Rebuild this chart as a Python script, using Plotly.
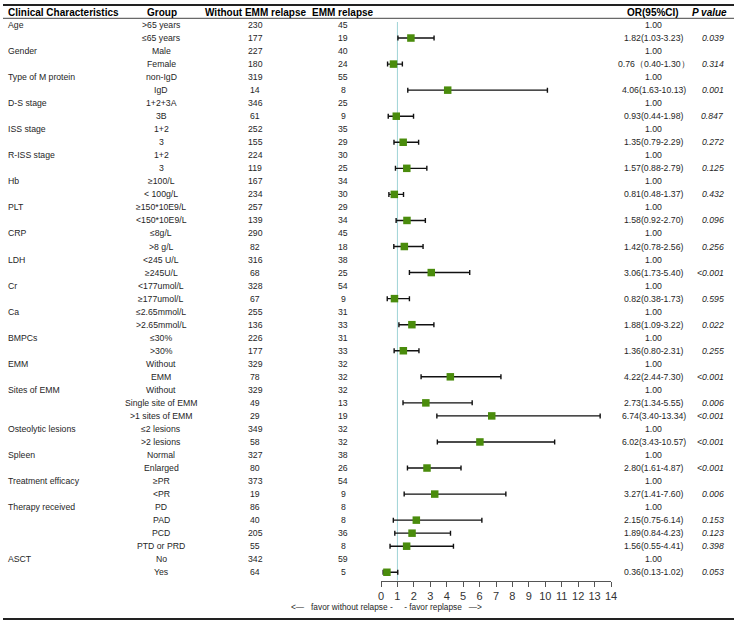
import plotly.graph_objects as go

characteristic = ["Age", "", "Gender", "", "Type of M protein", "", "D-S stage", "",
                  "ISS stage", "", "R-ISS stage", "", "Hb", "", "PLT", "", "CRP", "",
                  "LDH", "", "Cr", "", "Ca", "", "BMPCs", "", "EMM", "",
                  "Sites of EMM", "", "", "Osteolytic lesions", "", "Spleen", "",
                  "Treatment efficacy", "", "Therapy received", "", "", "", "ASCT", ""]

groups = [">65 years", "≤65 years", "Male", "Female", "non-IgD", "IgD", "1+2+3A", "3B",
          "1+2", "3", "1+2", "3", "≥100/L", "< 100g/L", "≥150*10E9/L", "<150*10E9/L",
          "≤8g/L", ">8 g/L", "<245 U/L", "≥245U/L", "<177umol/L", "≥177umol/L",
          "≤2.65mmol/L", ">2.65mmol/L", "≤30%", ">30%", "Without", "EMM", "Without",
          "Single site of EMM", ">1 sites of EMM", "≤2 lesions", ">2 lesions", "Normal",
          "Enlarged", "≥PR", "<PR", "PD", "PAD", "PCD", "PTD or PRD", "No", "Yes"]

without_relapse = [230, 177, 227, 180, 319, 14, 346, 61, 252, 155, 224, 119, 167, 234, 257, 139,
                   290, 82, 316, 68, 328, 67, 255, 136, 226, 177, 329, 78, 329, 49, 29, 349, 58,
                   327, 80, 373, 19, 86, 40, 205, 55, 342, 64]

emm_relapse = [45, 19, 40, 24, 55, 8, 25, 9, 35, 29, 30, 25, 34, 30, 29, 34, 45, 18, 38, 25,
               54, 9, 31, 33, 31, 33, 32, 32, 32, 13, 19, 32, 32, 38, 26, 54, 9, 8, 8, 36, 8,
               59, 5]

odds_ratio = [None, 1.82, None, 0.76, None, 4.06, None, 0.93, None, 1.35, None, 1.57, None, 0.81,
              None, 1.58, None, 1.42, None, 3.06, None, 0.82, None, 1.88, None, 1.36, None, 4.22,
              None, 2.73, 6.74, None, 6.02, None, 2.80, None, 3.27, None, 2.15, 1.89, 1.56,
              None, 0.36]

ci_lower = [None, 1.03, None, 0.40, None, 1.63, None, 0.44, None, 0.79, None, 0.88, None, 0.48,
            None, 0.92, None, 0.78, None, 1.73, None, 0.38, None, 1.09, None, 0.80, None, 2.44,
            None, 1.34, 3.40, None, 3.43, None, 1.61, None, 1.41, None, 0.75, 0.84, 0.55,
            None, 0.13]

ci_upper = [None, 3.23, None, 1.30, None, 10.13, None, 1.98, None, 2.29, None, 2.79, None, 1.37,
            None, 2.70, None, 2.56, None, 5.40, None, 1.73, None, 3.22, None, 2.31, None, 7.30,
            None, 5.55, 13.34, None, 10.57, None, 4.87, None, 7.60, None, 6.14, 4.23, 4.41,
            None, 1.02]

p_values = ["", "0.039", "", "0.314", "", "0.001", "", "0.847", "", "0.272", "", "0.125", "",
            "0.432", "", "0.096", "", "0.256", "", "<0.001", "", "0.595", "", "0.022", "",
            "0.255", "", "<0.001", "", "0.006", "<0.001", "", "<0.001", "", "<0.001", "",
            "0.006", "", "0.153", "0.123", "0.398", "", "0.053"]

x_ticks = list(range(0, 15))

# ---- figure geometry (reference pixel grid) ----
W, H = 734, 624
ROW0, STEP = 25.0, 13.03


def px_x(p):
    return p / W


def px_y(p):
    return (H - p) / H


def or_label(i):
    if odds_ratio[i] is None:
        return "1.00"
    if i == 3:
        return f"{odds_ratio[i]:.2f}（{ci_lower[i]:.2f}-{ci_upper[i]:.2f}）"
    return f"{odds_ratio[i]:.2f}({ci_lower[i]:.2f}-{ci_upper[i]:.2f})"


rows = list(range(len(groups)))
idx = [i for i in rows if odds_ratio[i] is not None]

fig = go.Figure()
fig.add_trace(go.Scatter(
    x=[odds_ratio[i] for i in idx],
    y=[i for i in idx],
    mode="markers",
    marker=dict(symbol="square", size=7.5, color="#4a8c0c", line=dict(width=0)),
    error_x=dict(type="data", symmetric=False,
                 array=[ci_upper[i] - odds_ratio[i] for i in idx],
                 arrayminus=[odds_ratio[i] - ci_lower[i] for i in idx],
                 color="#111111", thickness=1.4, width=2.5),
    hoverinfo="skip", showlegend=False,
))

FONT = "Liberation Sans, Arial, sans-serif"
BODY = 8.7
TXT = "#262626"
ann = []


def add(text, xpx, row, anchor="center", size=BODY, color=TXT):
    ann.append(dict(text=text, x=px_x(xpx), xref="paper", y=row, yref="y",
                    xanchor=anchor, yanchor="middle", showarrow=False,
                    borderpad=0, borderwidth=0,
                    font=dict(family=FONT, size=size, color=color)))


hdr_row = (12.3 - ROW0) / STEP
add("<b>Clinical Characteristics</b>", 7.5, hdr_row, "left", 10, "#000")
add("<b>Group</b>", 161.5, hdr_row, "center", 10, "#000")
add("<b>Without EMM relapse</b>", 255, hdr_row, "center", 10, "#000")
add("<b>EMM relapse</b>", 343, hdr_row, "center", 10, "#000")
add("<b>OR(95%CI)</b>", 653, hdr_row, "center", 10, "#000")
add("<b><i>P value</i></b>", 727, hdr_row, "right", 10, "#000")

for i in rows:
    if characteristic[i]:
        add(characteristic[i], 7.5, i, "left")
    add(groups[i], 161, i)
    add(str(without_relapse[i]), 255, i)
    add(str(emm_relapse[i]), 343, i)
    add(or_label(i), 653.5, i)
    if p_values[i]:
        add(f"<i>{p_values[i]}</i>", 724, i, "right")

add("<—   favor without relapse -     - favor replapse   —>", 386.5, (607 - ROW0) / STEP,
    "center", 8.3)

shapes = [
    dict(type="line", xref="paper", yref="paper", x0=px_x(3), x1=1, y0=px_y(5), y1=px_y(5),
         line=dict(color="#222", width=2)),
    dict(type="line", xref="paper", yref="paper", x0=px_x(3), x1=1, y0=px_y(18.3), y1=px_y(18.3),
         line=dict(color="#444", width=1)),
    dict(type="line", xref="paper", yref="paper", x0=px_x(3), x1=1, y0=px_y(619), y1=px_y(619),
         line=dict(color="#222", width=2)),
    dict(type="line", xref="x", yref="paper", x0=1, x1=1, y0=px_y(580.5), y1=px_y(22),
         line=dict(color="#9fd3d6", width=1), layer="below"),
]

fig.update_layout(
    width=W, height=H, autosize=False,
    margin=dict(l=0, r=0, t=0, b=0, pad=0, autoexpand=False),
    paper_bgcolor="white", plot_bgcolor="white",
    font=dict(family=FONT, size=BODY, color=TXT),
    xaxis=dict(domain=[px_x(381), px_x(611)], range=[0, 14], anchor="free",
               position=px_y(580.5), tickmode="array", tickvals=x_ticks,
               ticktext=[str(t) for t in x_ticks], showgrid=False, zeroline=False,
               automargin=False,
               showline=True, linecolor="#555", linewidth=1, ticks="outside",
               ticklen=5, tickcolor="#555", tickfont=dict(size=11, color="#333")),
    yaxis=dict(domain=[0, 1], range=[(H - ROW0) / STEP, -ROW0 / STEP], visible=False,
               automargin=False, showgrid=False, zeroline=False),
    annotations=ann,
    shapes=shapes,
)

fig.write_html("out.html", config={"responsive": False, "displayModeBar": False},
               post_script="document.body.style.margin='0px';document.body.style.overflow='hidden';")
